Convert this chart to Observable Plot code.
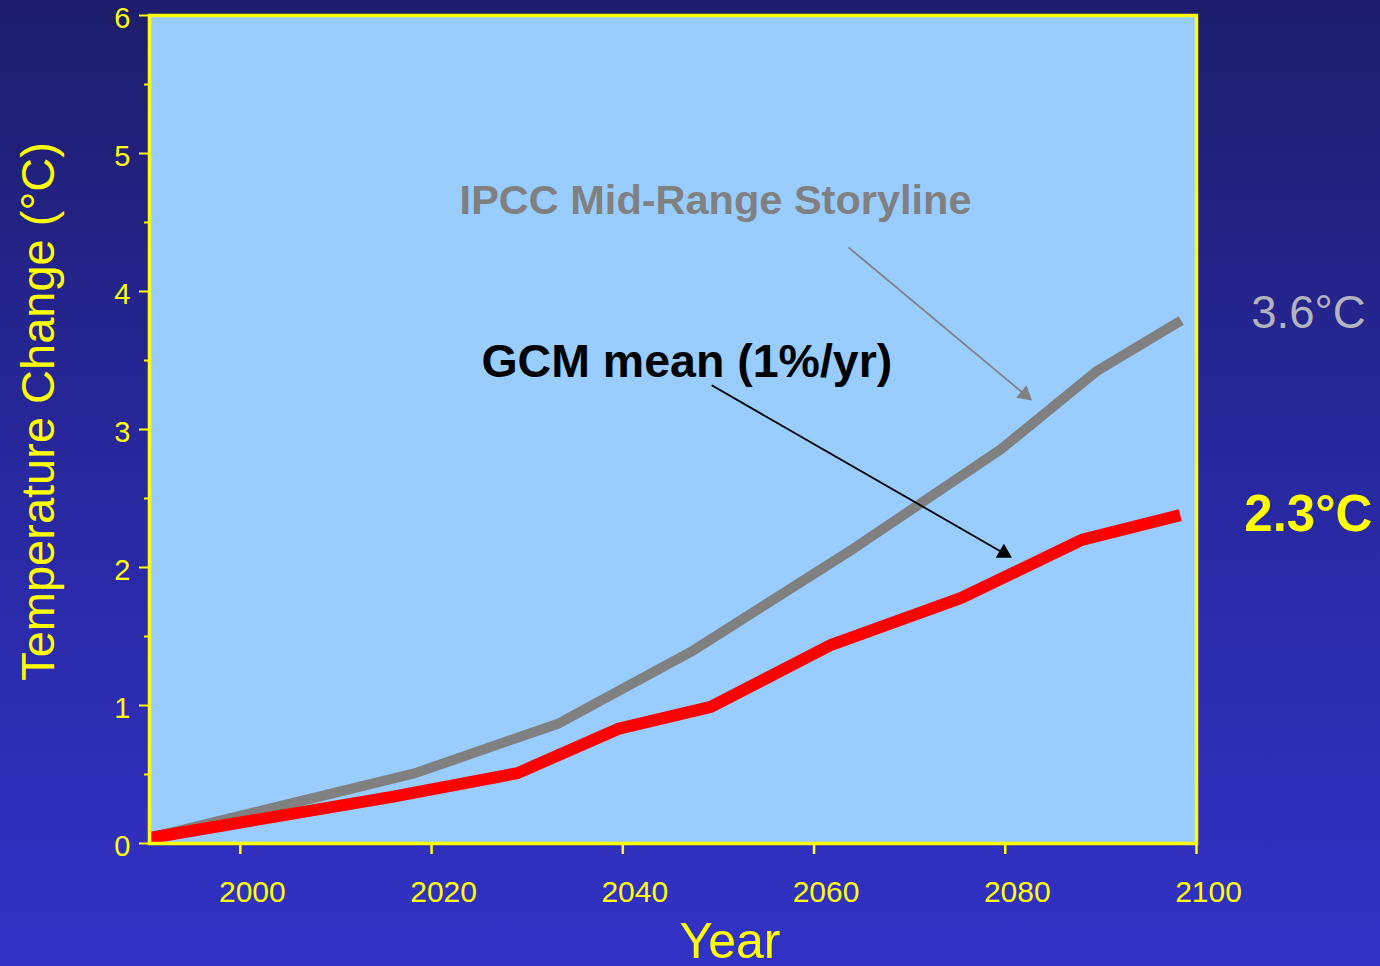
<!DOCTYPE html>
<html><head><meta charset="utf-8">
<script src="https://cdn.jsdelivr.net/npm/d3@7"></script>
<script src="https://cdn.jsdelivr.net/npm/@observablehq/plot@0.6"></script>
<style>
html,body{margin:0;padding:0;}
body{width:1380px;height:966px;overflow:hidden;background:linear-gradient(to bottom,#1d1d6b 0%,#2828a0 50%,#3232c6 100%);}
</style></head><body><div id="chart"></div>
<script>
// ---- data ----
const ipccYears  = [1990.5, 2018.3, 2033.3, 2047.4, 2064.2, 2079.6, 2089.5, 2098.4];
const ipccValues = [0.04,   0.51,   0.87,   1.40,   2.14,   2.86,   3.42,   3.79];
const gcmYears   = [1990.5, 2016.0, 2029.0, 2039.5, 2049.2, 2061.8, 2075.4, 2088.0, 2098.3];
const gcmValues  = [0.04,   0.34,   0.51,   0.83,   0.99,   1.44,   1.78,   2.20,   2.38];
const yMajorTicks = [0, 1, 2, 3, 4, 5, 6];
const yMinorTicks = [0.5, 1.5, 2.5, 3.5, 4.5, 5.5];
const xTicks = [2000, 2020, 2040, 2060, 2080, 2100];
const annotationLabels = ["IPCC Mid-Range Storyline", "GCM mean (1%/yr)"];
const annotationYears  = [2049.7, 2046.7];
const annotationValues = [4.66, 3.49];
const endLabels = ["3.6°C", "2.3°C"];
const endLabelYears = [2111.7, 2111.7];
const endLabelValues = [3.84, 2.38];
const arrowFromYears  = [2063.6, 2049.3];
const arrowFromValues = [4.32, 3.32];
const arrowToYears    = [2082.8, 2080.7];
const arrowToValues   = [3.21, 2.07];
const arrowColors = ["#808080", "#000000"];
const yLabel = "Temperature Change (°C)";
const xLabel = "Year";

// ---- layout ----
const W = 1380, H = 966;
const mL = 149, mR = 184, mT = 15, mB = 123;
const xDomain = [1990.5, 2100], yDomain = [0, 6];
const FONT = "'Liberation Sans', Arial, Helvetica, sans-serif";

const ipcc = ipccYears.map((x, i) => ({x, y: ipccValues[i]}));
const gcm = gcmYears.map((x, i) => ({x, y: gcmValues[i]}));
const annotations = annotationLabels.map((t, i) => ({t, x: annotationYears[i], y: annotationValues[i]}));
const ends = endLabels.map((t, i) => ({t, x: endLabelYears[i], y: endLabelValues[i]}));

// mirror scales, only to orient arrowheads
const xs = d3.scaleLinear(xDomain, [mL, W - mR]);
const ys = d3.scaleLinear(yDomain, [H - mB, mT]);
const headR = 6;
const headBack = 2 * Math.sqrt(headR * headR * Math.PI / (3 * Math.sqrt(3)));
const arrows = arrowFromYears.map((x1, i) => {
  const px0 = xs(x1), py0 = ys(arrowFromValues[i]);
  const px1 = xs(arrowToYears[i]), py1 = ys(arrowToValues[i]);
  const a = Math.atan2(py1 - py0, px1 - px0);
  const cx = px1 - headBack * Math.cos(a), cy = py1 - headBack * Math.sin(a);
  return {x1, y1: arrowFromValues[i], x2: xs.invert(cx), y2: ys.invert(cy),
          rot: a * 180 / Math.PI + 90, color: arrowColors[i]};
});

const chart = Plot.plot({
  width: W, height: H,
  marginLeft: mL, marginRight: mR, marginTop: mT, marginBottom: mB,
  x: {domain: xDomain},
  y: {domain: yDomain},
  style: {background: "transparent", color: "#ffff00", fontFamily: FONT, overflow: "visible"},
  marks: [
    Plot.frame({fill: "#99ccff", stroke: "none"}),
    Plot.line(ipcc, {x: "x", y: "y", stroke: "#808080", strokeWidth: 10, strokeLinecap: "butt", strokeLinejoin: "round"}),
    Plot.line(gcm, {x: "x", y: "y", stroke: "#ff0000", strokeWidth: 12, strokeLinecap: "butt", strokeLinejoin: "round"}),
    Plot.link(arrows, {x1: "x1", y1: "y1", x2: "x2", y2: "y2", stroke: "color", strokeWidth: 1.8}),
    Plot.dot(arrows, {x: "x2", y: "y2", symbol: "triangle", r: headR, fill: "color", stroke: "none", rotate: "rot"}),
    Plot.text([annotations[0]], {x: "x", y: "y", text: "t", fill: "#808080", fontWeight: "bold", fontSize: 41.5}),
    Plot.text([annotations[1]], {x: "x", y: "y", text: "t", fill: "#000000", fontWeight: "bold", fontSize: 46.5}),
    Plot.text([ends[0]], {x: "x", y: "y", text: "t", fill: "#b4b4bc", fontSize: 45.5}),
    Plot.text([ends[1]], {x: "x", y: "y", text: "t", fill: "#ffff00", fontWeight: "bold", fontSize: 51}),
    Plot.text([yLabel], {frameAnchor: "left", textAnchor: "middle", lineAnchor: "middle", rotate: -90, dx: -111, dy: -18, fontSize: 47, fill: "#ffff00"}),
    Plot.text([xLabel], {frameAnchor: "bottom", textAnchor: "middle", lineAnchor: "middle", dx: 57, dy: 98, fontSize: 50, fill: "#ffff00"}),
    Plot.axisY(yMajorTicks, {tickSize: 10, fill: "none", stroke: "#ffff00", strokeWidth: 2, label: null}),
    Plot.axisY(yMinorTicks, {tickSize: 5, fill: "none", stroke: "#ffff00", strokeWidth: 2, label: null}),
    Plot.axisY(yMajorTicks, {tickSize: 10, tickPadding: 9, stroke: "none", fill: "#ffff00", fontSize: 29, dy: 3, tickFormat: d => `${d}`, label: null}),
    Plot.axisX(xTicks, {tickSize: 11, fill: "none", stroke: "#ffff00", strokeWidth: 2.5, label: null}),
    Plot.axisX(xTicks, {tickSize: 11, tickPadding: 26, stroke: "none", fill: "#ffff00", fontSize: 30, dx: 12, tickFormat: d => `${d}`, label: null}),
    Plot.frame({stroke: "#ffff00", strokeWidth: 3.5})
  ]
});
document.getElementById("chart").appendChild(chart);
</script>
</body></html>
